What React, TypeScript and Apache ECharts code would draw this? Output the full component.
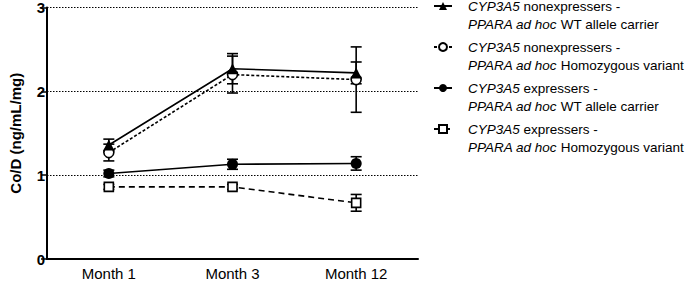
import React, { useEffect, useRef } from "react";
import * as echarts from "echarts";

const categories = ["Month 1", "Month 3", "Month 12"];
const yTicks = [0, 1, 2, 3];

const seriesNames = [
  "{i|CYP3A5} nonexpressers -\n{i|PPARA ad hoc} WT allele carrier",
  "{i|CYP3A5} nonexpressers -\n{i|PPARA ad hoc} Homozygous variant",
  "{i|CYP3A5} expressers -\n{i|PPARA ad hoc} WT allele carrier",
  "{i|CYP3A5} expressers -\n{i|PPARA ad hoc} Homozygous variant",
];
const nonWT = [1.36, 2.27, 2.22];
const nonWTErr = [0.07, 0.18, 0.13];
const nonHV = [1.27, 2.2, 2.14];
const nonHVErr = [0.1, 0.22, 0.39];
const expWT = [1.02, 1.13, 1.14];
const expWTErr = [0.04, 0.06, 0.08];
const expHV = [0.86, 0.86, 0.67];
const expHVErr = [0.03, 0.03, 0.1];

const FONT = "'Liberation Sans', Arial, Helvetica, sans-serif";

function errData(v: number[], e: number[]) {
  return v.map((val, i) => [i, val - e[i], val + e[i]]);
}

function errSeries(v: number[], e: number[]) {
  return {
    type: "custom",
    z: 1,
    silent: true,
    data: errData(v, e),
    encode: { x: 0, y: [1, 2] },
    renderItem: (params: any, api: any) => {
      const x = api.value(0);
      const lo = api.coord([x, api.value(1)]);
      const hi = api.coord([x, api.value(2)]);
      const w = 5.5;
      const st = { stroke: "#000", lineWidth: 1.6 };
      return {
        type: "group",
        children: [
          { type: "line", shape: { x1: lo[0], y1: lo[1], x2: hi[0], y2: hi[1] }, style: st },
          { type: "line", shape: { x1: lo[0] - w, y1: lo[1], x2: lo[0] + w, y2: lo[1] }, style: st },
          { type: "line", shape: { x1: hi[0] - w, y1: hi[1], x2: hi[0] + w, y2: hi[1] }, style: st },
        ],
      };
    },
  };
}

export default function App() {
  const ref = useRef<HTMLDivElement>(null);
  useEffect(() => {
    const chart = echarts.init(ref.current!, null, { renderer: "svg" });
    const lineSeries = (name: string, data: number[], symbol: string, size: number, fill: string, type: any, z = 3) => ({
      name,
      type: "line",
      data,
      symbol,
      symbolSize: size,
      z,
      itemStyle: { color: fill, borderColor: "#000", borderWidth: fill === "#fff" ? 1.6 : 0 },
      lineStyle: { color: "#000", width: 1.6, type },
    });
    chart.setOption({
      animation: false,
      textStyle: { fontFamily: FONT },
      grid: { left: 37, right: 267, top: 7, bottom: 27, containLabel: false },
      legend: {
        orient: "vertical",
        left: 433,
        top: -21,
        padding: 0,
        itemGap: -13,
        itemWidth: 18,
        itemHeight: 10,
        selectedMode: false,
        data: seriesNames,
        textStyle: {
          fontFamily: FONT,
          fontSize: 13.5,
          lineHeight: 18,
          color: "#000",
          overflow: "none",
          padding: [18, 0, 0, 11],
          rich: { i: { fontStyle: "italic", fontSize: 13.5, lineHeight: 18, fontFamily: FONT, color: "#000" } },
        },
      },
      xAxis: {
        type: "category",
        data: categories,
        boundaryGap: true,
        axisLine: { lineStyle: { color: "#000", width: 2 } },
        axisTick: { alignWithLabel: true, inside: true, length: 5, lineStyle: { color: "#000", width: 1.5 } },
        axisLabel: { color: "#000", fontSize: 15, margin: 7, fontFamily: FONT },
        splitLine: { show: false },
      },
      yAxis: {
        type: "value",
        min: yTicks[0],
        max: yTicks[yTicks.length - 1],
        interval: 1,
        name: "Co/D (ng/mL/mg)",
        nameLocation: "middle",
        nameGap: 24,
        nameTextStyle: { color: "#000", fontSize: 15, fontWeight: "bold", fontFamily: FONT },
        axisLine: { show: true, lineStyle: { color: "#000", width: 2 } },
        axisTick: { show: true, length: 6, lineStyle: { color: "#000", width: 1.5 } },
        axisLabel: { color: "#000", fontSize: 15, fontWeight: "bold", margin: 2, fontFamily: FONT },
        splitLine: { show: true, lineStyle: { color: "#000", width: 1, type: [1.5, 1.5] } },
      },
      series: [
        errSeries(nonWT, nonWTErr),
        errSeries(nonHV, nonHVErr),
        errSeries(expWT, expWTErr),
        errSeries(expHV, expHVErr),
        lineSeries(seriesNames[0], nonWT, "triangle", 11, "#000", "solid", 4),
        lineSeries(seriesNames[1], nonHV, "circle", 10, "#fff", [3, 2], 3),
        lineSeries(seriesNames[2], expWT, "circle", 11, "#000", "solid", 3),
        lineSeries(seriesNames[3], expHV, "rect", 9, "#fff", [6, 4], 3),
      ],
    });
    return () => chart.dispose();
  }, []);
  return <div ref={ref} style={{ width: 685, height: 286, position: "absolute", left: 0, top: 0 }} />;
}
